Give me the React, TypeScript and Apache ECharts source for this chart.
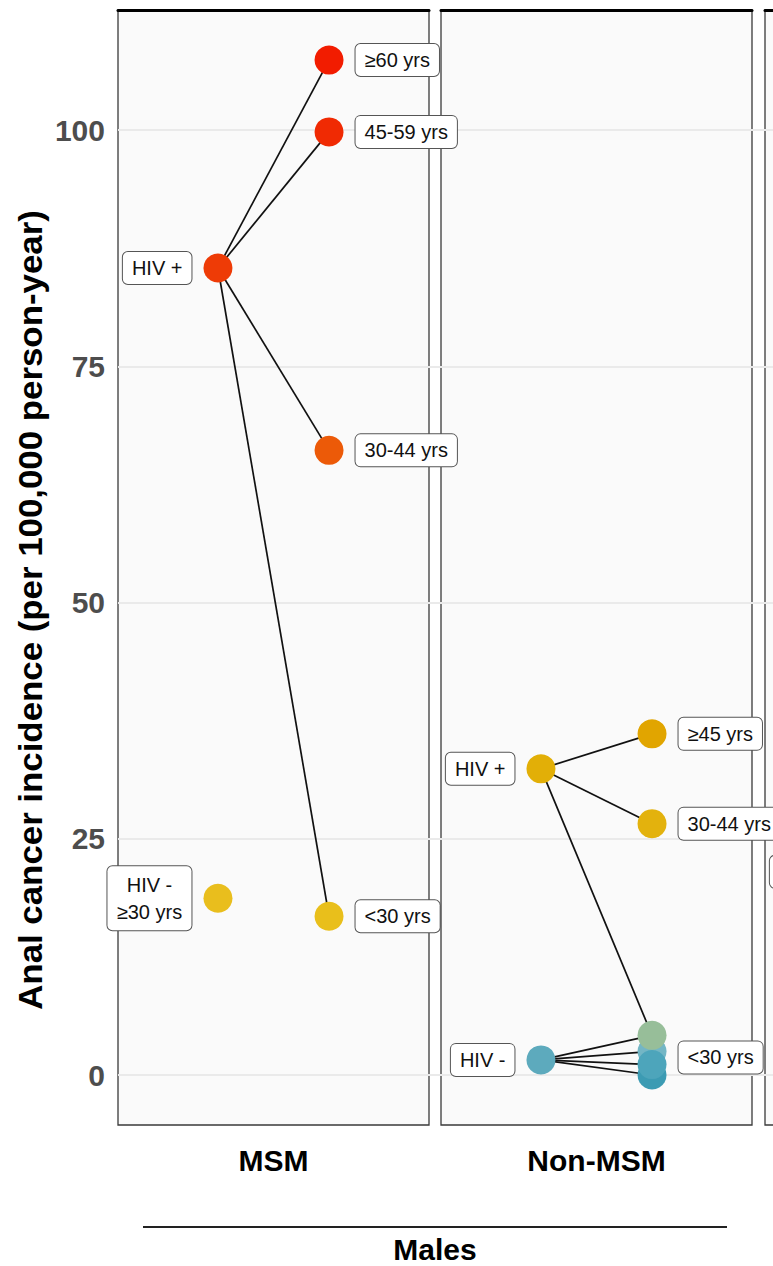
import React, { useEffect, useRef } from "react";
import * as echarts from "echarts";

// ---------- data ----------
const yTicks = [0, 25, 50, 75, 100];
const panelNames = ["MSM", "Non-MSM"];
const groupTitle = "Males";
const yTitle = "Anal cancer incidence (per 100,000 person-year)";

// MSM panel
const msmLabels = ["HIV -\n≥30 yrs", "HIV +", "≥60 yrs", "45-59 yrs", "30-44 yrs", "<30 yrs"];
const msmX = [1, 1, 2, 2, 2, 2];
const msmValues = [18.7, 85.4, 107.4, 99.8, 66.1, 16.8];
const msmEdges = [[1, 2], [1, 3], [1, 4], [1, 5]];

// Non-MSM panel
const nonLabels = ["HIV +", "≥45 yrs", "30-44 yrs", "HIV -", "<30 yrs", "", "", ""];
const nonX = [1, 2, 2, 1, 2, 2, 2, 2];
const nonValues = [32.4, 36.1, 26.6, 1.6, 2.5, 0.0, 1.1, 4.2];
const nonEdges = [[0, 1], [0, 2], [0, 7], [3, 4], [3, 5], [3, 6], [3, 7]];

// third panel (mostly outside the picture)
const femLabels = ["HIV +"];
const femX = [1];
const femValues = [21.5];
const femEdges: number[][] = [];

// ---------- styles ----------
const msmColors = ["#E9BE1D", "#EE3B06", "#F21C00", "#F02A03", "#EC5A08", "#E9BF1B"];
const nonColors = ["#E2AF07", "#E1A500", "#E3B20D", "#5DAABD", "#73B6C5", "#3C9BB3", "#4DA5BB", "#97BE99"];
const femColors = ["#E6BA18"];
const nonLabelNudge = [0, 0, 0, 0, 6, 0, 0, 0];

const FONT = "'Liberation Sans', Arial, Helvetica, sans-serif";
const W = 773;
const H = 1266;
const PANEL_TOP = 10;
const PANEL_H = 1115;
const PANEL_W = 311;
const panelLeft = [118, 441, 765];
const YMIN = -5.29;
const YMAX = 112.7;

type Panel = { labels: string[]; xs: number[]; values: number[]; edges: number[][]; colors: string[]; nudge?: number[] };
const panels: Panel[] = [
  { labels: msmLabels, xs: msmX, values: msmValues, edges: msmEdges, colors: msmColors },
  { labels: nonLabels, xs: nonX, values: nonValues, edges: nonEdges, colors: nonColors, nudge: nonLabelNudge },
  { labels: femLabels, xs: femX, values: femValues, edges: femEdges, colors: femColors },
];

function buildOption() {
  const grid: any[] = [
    {
      left: panelLeft[0],
      top: PANEL_TOP,
      width: W - panelLeft[0],
      height: PANEL_H,
      show: false,
      outerBoundsMode: "none",
    },
  ];
  const xAxis: any[] = [{ gridIndex: 0, type: "value", min: 0, max: 1, show: false }];
  const yAxis: any[] = [{ gridIndex: 0, type: "value", min: YMIN, max: YMAX, show: false }];
  const series: any[] = [
    {
      type: "line",
      xAxisIndex: 0,
      yAxisIndex: 0,
      data: [],
      silent: true,
      z: 1,
      markLine: {
        silent: true,
        z: 1,
        symbol: ["none", "none"],
        label: { show: false },
        lineStyle: { color: "#EAEAEA", width: 2, type: "solid" },
        data: yTicks.map((v) => ({ yAxis: v })),
      },
    },
  ];

  panels.forEach((p, pi) => {
    const gi = pi + 1;
    grid.push({
      left: panelLeft[pi],
      top: PANEL_TOP,
      width: PANEL_W,
      height: PANEL_H,
      show: true,
      outerBoundsMode: "none",
      backgroundColor: "#FAFAFA",
      borderColor: "#3A3A3A",
      borderWidth: 1.3,
    });
    xAxis.push({
      gridIndex: gi,
      type: "value",
      min: 0.1,
      max: 2.9,
      position: "top",
      axisLine: { show: true, onZero: false, lineStyle: { color: "#000", width: 3 } },
      axisTick: { show: false },
      axisLabel: { show: false },
      splitLine: { show: false },
    });
    yAxis.push({
      gridIndex: gi,
      type: "value",
      min: YMIN,
      max: YMAX,
      axisLine: { show: false },
      axisTick: { show: false },
      splitLine: { show: false },
      axisLabel:
        pi === 0
          ? {
              show: true,
              customValues: yTicks,
              fontSize: 30,
              fontWeight: "bold",
              color: "#4D4D4D",
              fontFamily: FONT,
              margin: 13,
            }
          : { show: false },
    });

    p.edges.forEach(([a, b]) => {
      series.push({
        type: "line",
        xAxisIndex: gi,
        yAxisIndex: gi,
        data: [
          [p.xs[a], p.values[a]],
          [p.xs[b], p.values[b]],
        ],
        symbol: "none",
        silent: true,
        z: 2,
        lineStyle: { color: "#111", width: 1.7 },
      });
    });

    series.push({
      type: "scatter",
      xAxisIndex: gi,
      yAxisIndex: gi,
      symbolSize: 29,
      z: 3,
      silent: true,
      clip: false,
      data: p.values.map((v, i) => {
        const lab = p.labels[i];
        const multi = lab.includes("\n");
        const label: any = {
          show: lab !== "",
          position: p.xs[i] === 1 ? "left" : "right",
          distance: 12,
          color: "#111",
          fontSize: 20,
          fontFamily: FONT,
          backgroundColor: "#FFFFFF",
          borderColor: "#555",
          borderWidth: 1,
          borderRadius: 5,
          padding: [5, 9],
          lineHeight: 22,
          offset: [0, p.nudge ? p.nudge[i] : 0],
        };
        if (multi) {
          label.formatter = lab
            .split("\n")
            .map((l) => `{c|${l}}`)
            .join("\n");
          label.rich = {
            c: { width: 66, align: "center", fontSize: 20, lineHeight: 27, fontFamily: FONT, color: "#111" },
          };
        } else {
          label.formatter = lab;
        }
        return {
          value: [p.xs[i], v],
          name: lab,
          itemStyle: { color: p.colors[i], opacity: 1 },
          label,
        };
      }),
    });
  });

  const graphic: any[] = [
    {
      type: "text",
      x: 30,
      y: 610,
      rotation: Math.PI / 2,
      scaleX: 1.056,
      style: {
        text: yTitle,
        fontSize: 33,
        fontWeight: "bold",
        fontFamily: FONT,
        fill: "#000",
        align: "center",
        verticalAlign: "middle",
      },
    },
    ...panelNames.map((n, i) => ({
      type: "text",
      x: panelLeft[i] + PANEL_W / 2,
      y: 1160,
      style: {
        text: n,
        fontSize: 30,
        fontWeight: "bold",
        fontFamily: FONT,
        fill: "#000",
        align: "center",
        verticalAlign: "middle",
      },
    })),
    {
      type: "line",
      shape: { x1: 143, y1: 1227, x2: 727, y2: 1227 },
      style: { stroke: "#222", lineWidth: 2 },
    },
    {
      type: "text",
      x: 435,
      y: 1249,
      style: {
        text: groupTitle,
        fontSize: 30,
        fontWeight: "bold",
        fontFamily: FONT,
        fill: "#000",
        align: "center",
        verticalAlign: "middle",
      },
    },
  ];

  return {
    animation: false,
    backgroundColor: "#FFFFFF",
    grid,
    xAxis,
    yAxis,
    series,
    graphic,
  };
}

export default function App() {
  const ref = useRef<HTMLDivElement>(null);
  useEffect(() => {
    document.body.style.margin = "0";
    if (!ref.current) return;
    const chart = echarts.init(ref.current, undefined, { renderer: "svg" });
    chart.setOption(buildOption() as any);
    return () => chart.dispose();
  }, []);
  return <div ref={ref} style={{ width: W, height: H }} />;
}
